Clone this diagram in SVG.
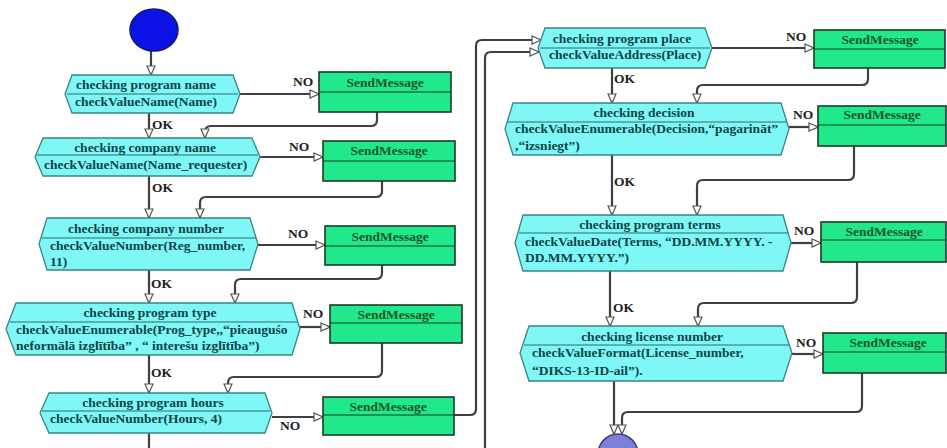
<svg xmlns="http://www.w3.org/2000/svg" width="947" height="448" viewBox="0 0 947 448">
<defs>
<marker id="arr" markerUnits="userSpaceOnUse" markerWidth="11" markerHeight="11" refX="10" refY="5" orient="auto" viewBox="0 0 11 11">
<path d="M1,1 L10,5 L1,9 z" fill="#ffffff" stroke="#555" stroke-width="1.2"/>
</marker>
<style>
.hex{fill:#7ff7f7;stroke:#3a8585;stroke-width:1.3}
.sep{stroke:#2f6f6f;stroke-width:1.2}
.box{fill:#1fe98b;stroke:#1d3a26;stroke-width:1.6}
.bsep{stroke:#1d3a26;stroke-width:1.2}
.t{font-family:"Liberation Serif","Times New Roman",serif;font-weight:bold;font-size:13.5px;fill:#0e4545}
.tc{text-anchor:middle}
.bt{font-family:"Liberation Serif","Times New Roman",serif;font-weight:bold;font-size:13.5px;fill:#1a5526;text-anchor:middle}
.lb{font-family:"Liberation Serif","Times New Roman",serif;font-weight:bold;font-size:13.5px;fill:#222}
.c{fill:none;stroke:#404040;stroke-width:2.2;marker-end:url(#arr)}
.cn{fill:none;stroke:#404040;stroke-width:2.2}
</style>
</defs>
<rect width="947" height="448" fill="#ffffff"/>

<g id="connectors">
<path class="c" d="M151,51 V75"/>
<path class="c" d="M149,113 V138"/>
<path class="c" d="M240,94 H319"/>
<path class="c" d="M377,112 V120 Q377,126 371,126 H211 Q205,126 205,132 V138"/>
<path class="c" d="M149,176 V218"/>
<path class="c" d="M260,157 H323"/>
<path class="c" d="M382,181 V191 Q382,197 376,197 H206 Q200,197 200,203 V218"/>
<path class="c" d="M149,270 V303"/>
<path class="c" d="M258,245 H325"/>
<path class="c" d="M382,265 V273 Q382,279 376,279 H241 Q235,279 235,285 V303"/>
<path class="c" d="M149,355 V393"/>
<path class="c" d="M300,327 H330"/>
<path class="c" d="M382,343 V371 Q382,377 376,377 H234 Q228,377 228,383 V393"/>
<path class="c" d="M272,417 H323"/>
<path class="cn" d="M149,433 V448"/>
<path class="c" d="M454,415 H470 Q476,415 476,409 V46 Q476,40 482,40 H541"/>
<path class="c" d="M485,448 V58 Q485,52 491,52 H539"/>
<path class="c" d="M612,68 V103"/>
<path class="c" d="M712,48 H814"/>
<path class="c" d="M868,68 V79 Q868,85 862,85 H703 Q697,85 697,91 V103"/>
<path class="c" d="M612,155 V215"/>
<path class="c" d="M789,127 H818"/>
<path class="c" d="M854,146 V174 Q854,180 848,180 H703 Q697,180 697,186 V215"/>
<path class="c" d="M610,271 V326"/>
<path class="c" d="M791,243 H821"/>
<path class="c" d="M857,262 V297 Q857,303 851,303 H704 Q698,303 698,309 V326"/>
<path class="c" d="M614,381 V434"/>
<path class="c" d="M792,354 H823"/>
<path class="c" d="M862,373 V406 Q862,412 856,412 H628 Q622,412 622,418 V434"/>
<text class="lb" x="152" y="129">OK</text>
<text class="lb" x="152" y="192">OK</text>
<text class="lb" x="151" y="288">OK</text>
<text class="lb" x="151" y="377">OK</text>
<text class="lb" x="614" y="83">OK</text>
<text class="lb" x="614" y="186">OK</text>
<text class="lb" x="613" y="312">OK</text>
<text class="lb" x="293" y="86">NO</text>
<text class="lb" x="289" y="151">NO</text>
<text class="lb" x="288" y="238">NO</text>
<text class="lb" x="303" y="318">NO</text>
<text class="lb" x="280" y="430">NO</text>
<text class="lb" x="786" y="41">NO</text>
<text class="lb" x="793" y="119">NO</text>
<text class="lb" x="794" y="235">NO</text>
<text class="lb" x="796" y="347">NO</text>
</g>

<g id="start">
<ellipse cx="154" cy="30" rx="24" ry="21" fill="#0a12e6" stroke="#101a70" stroke-width="1.5"/>
</g>

<g id="n1">
<polygon class="hex" points="65,94 72,75 233,75 240,94 233,113 72,113"/>
<line class="sep" x1="67" y1="94" x2="238" y2="94"/>
<text class="t tc" x="146" y="89">checking program name</text>
<text class="t" x="75" y="106">checkValueName(Name)</text>
</g>

<g id="n2">
<polygon class="hex" points="35,157 43,138 252,138 260,157 252,176 43,176"/>
<line class="sep" x1="37" y1="155" x2="258" y2="155"/>
<text class="t tc" x="145" y="152">checking company name</text>
<text class="t" x="44" y="169">checkValueName(Name_requester)</text>
</g>

<g id="n3">
<polygon class="hex" points="39,244 47,218 250,218 258,244 250,270 47,270"/>
<line class="sep" x1="42" y1="238" x2="256" y2="238"/>
<text class="t tc" x="146" y="233">checking company number</text>
<text class="t" x="50" y="250">checkValueNumber(Reg_number,</text>
<text class="t" x="50" y="266">11)</text>
</g>

<g id="n4">
<polygon class="hex" points="6,329 16,303 292,303 300,329 292,355 16,355"/>
<line class="sep" x1="10" y1="322" x2="297" y2="322"/>
<text class="t tc" x="150" y="317">checking program type</text>
<text class="t" x="16" y="334">checkValueEnumerable(Prog_type,,“pieauguśo</text>
<text class="t" x="16" y="350">neformālā izglītība” , “ interešu izglītība”)</text>
</g>

<g id="n5">
<polygon class="hex" points="40,413 49,393 265,393 272,413 265,433 49,433"/>
<line class="sep" x1="42" y1="411" x2="270" y2="411"/>
<text class="t tc" x="153" y="407">checking program hours</text>
<text class="t" x="50" y="423">checkValueNumber(Hours, 4)</text>
</g>

<g id="n6">
<polygon class="hex" points="538,48 545,28 705,28 712,48 705,68 545,68"/>
<line class="sep" x1="540" y1="48" x2="710" y2="48"/>
<text class="t tc" x="622" y="43">checking program place</text>
<text class="t" x="549" y="59">checkValueAddress(Place)</text>
</g>

<g id="n7">
<polygon class="hex" points="505,129 513,103 781,103 789,129 781,155 513,155"/>
<line class="sep" x1="508" y1="122" x2="786" y2="122"/>
<text class="t tc" x="644" y="117">checking decision</text>
<text class="t" x="515" y="133">checkValueEnumerable(Decision,“pagarināt”</text>
<text class="t" x="515" y="150">,“izsniegt”)</text>
</g>

<g id="n8">
<polygon class="hex" points="515,243 523,215 783,215 791,243 783,271 523,271"/>
<line class="sep" x1="519" y1="233" x2="788" y2="233"/>
<text class="t tc" x="650" y="229">checking program terms</text>
<text class="t" x="525" y="246">checkValueDate(Terms, “DD.MM.YYYY. -</text>
<text class="t" x="525" y="262">DD.MM.YYYY.”)</text>
</g>

<g id="n9">
<polygon class="hex" points="520,353 529,326 783,326 792,353 783,381 529,381"/>
<line class="sep" x1="524" y1="345" x2="789" y2="345"/>
<text class="t tc" x="652" y="341">checking license number</text>
<text class="t" x="532" y="357">checkValueFormat(License_number,</text>
<text class="t" x="532" y="375">“DIKS-13-ID-ail”).</text>
</g>

<g id="end">
<circle cx="618" cy="454" r="20" fill="#7d80d6" stroke="#3a3d80" stroke-width="1.5"/>
</g>

<g id="b1"><rect class="box" x="319" y="72" width="132" height="40"/><line class="bsep" x1="319" y1="92" x2="451" y2="92"/><text class="bt" x="385" y="87">SendMessage</text></g>
<g id="b2"><rect class="box" x="323" y="141" width="132" height="40"/><line class="bsep" x1="323" y1="161" x2="455" y2="161"/><text class="bt" x="389" y="155">SendMessage</text></g>
<g id="b3"><rect class="box" x="325" y="226" width="130" height="39"/><line class="bsep" x1="325" y1="246" x2="455" y2="246"/><text class="bt" x="390" y="241">SendMessage</text></g>
<g id="b4"><rect class="box" x="330" y="305" width="132" height="38"/><line class="bsep" x1="330" y1="323" x2="462" y2="323"/><text class="bt" x="396" y="319">SendMessage</text></g>
<g id="b5"><rect class="box" x="323" y="397" width="131" height="38"/><line class="bsep" x1="323" y1="415" x2="454" y2="415"/><text class="bt" x="388" y="411">SendMessage</text></g>
<g id="b6"><rect class="box" x="814" y="30" width="131" height="38"/><line class="bsep" x1="814" y1="49" x2="945" y2="49"/><text class="bt" x="880" y="44">SendMessage</text></g>
<g id="b7"><rect class="box" x="818" y="106" width="128" height="40"/><line class="bsep" x1="818" y1="125" x2="946" y2="125"/><text class="bt" x="882" y="119">SendMessage</text></g>
<g id="b8"><rect class="box" x="821" y="222" width="125" height="40"/><line class="bsep" x1="821" y1="240" x2="946" y2="240"/><text class="bt" x="884" y="236">SendMessage</text></g>
<g id="b9"><rect class="box" x="823" y="333" width="123" height="40"/><line class="bsep" x1="823" y1="352" x2="946" y2="352"/><text class="bt" x="888" y="347">SendMessage</text></g>
</svg>
